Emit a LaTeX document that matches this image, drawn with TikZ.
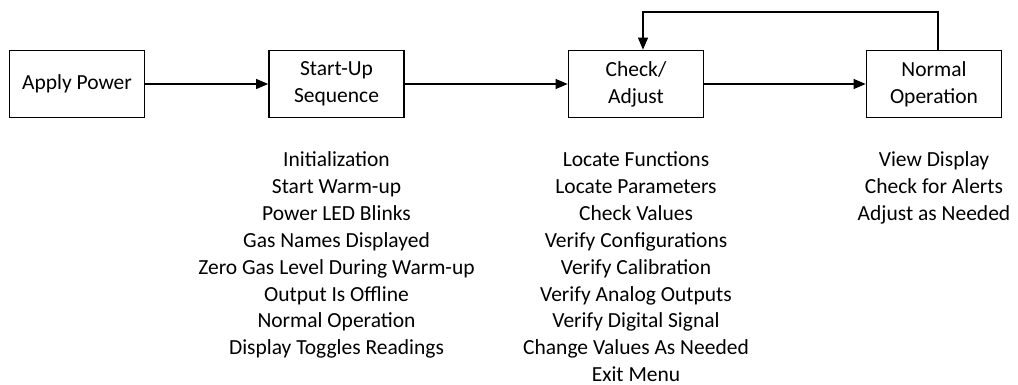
\documentclass[tikz,border=0pt]{standalone}
\usepackage{fontspec}
\setmainfont{Carlito}
\usetikzlibrary{arrows.meta}

\begin{document}
\begin{tikzpicture}[x=1pt,y=-1pt,
  font=\fontsize{21.5}{27}\selectfont,
  stage/.style={draw, line width=1.7pt, minimum width=135pt, minimum height=67pt, align=center, inner sep=2pt},
  item/.style={anchor=base, inner sep=0.5pt},
  flow/.style={line width=1.1pt, -{Triangle[length=12pt,width=10pt]}}]
  \useasboundingbox (0,0) rectangle (1018,385);

  % Etapas
  \node[stage] (apply) at (77,84) {Apply Power};
  \node[stage] (startup) at (336.5,84) {Start-Up\\Sequence};
  \node[stage] (check) at (636,84) {Check/\\Adjust};
  \node[stage] (normal) at (934,84) {Normal\\Operation};

  % Flechas
  \draw[flow] (apply) -- (startup);
  \draw[flow] (startup) -- (check);
  \draw[flow] (check) -- (normal);
  \coordinate (loopR) at (938,12);
  \coordinate (loopL) at (643,12);
  \draw[flow] (normal.north -| loopR) -- (loopR) -- (loopL) -- (check.north -| loopL);

  % Listas
  \foreach \t [count=\i] in {Initialization, Start Warm-up, Power LED Blinks, Gas Names Displayed,
      Zero Gas Level During Warm-up, Output Is Offline, Normal Operation, Display Toggles Readings}
    \node[item] (su\i) at (336.5,167+26.8*\i-26.8) {\t};
  \foreach \t [count=\i] in {Locate Functions, Locate Parameters, Check Values, Verify Configurations,
      Verify Calibration, Verify Analog Outputs, Verify Digital Signal, Change Values As Needed, Exit Menu}
    \node[item] (ca\i) at (636,167+26.8*\i-26.8) {\t};
  \foreach \t [count=\i] in {View Display, Check for Alerts, Adjust as Needed}
    \node[item] (no\i) at (934,167+26.8*\i-26.8) {\t};
\end{tikzpicture}
\end{document}
